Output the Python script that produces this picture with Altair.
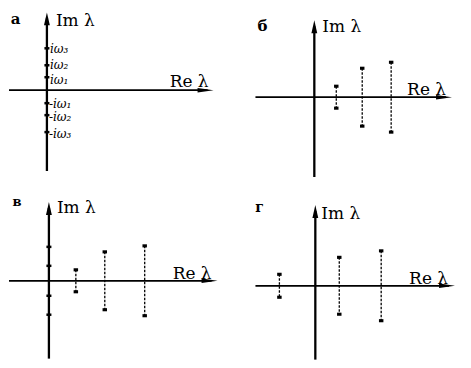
import altair as alt
import pandas as pd

# ---- data (units of the complex plane) ----
# Panel а: purely imaginary eigenvalues ±iω_k
a_omega = [1.3, 2.5, 4.2]
a_pos_labels = ["iω₁", "iω₂", "iω₃"]
a_neg_labels = ["-iω₁", "-iω₂", "-iω₃"]

# Panel б: complex-conjugate pairs Re ± i Im
b_re = [2.2, 4.8, 7.7]
b_im = [1.1, 2.9, 3.5]

# Panel в: two pairs on the imaginary axis + three conjugate pairs
v_axis_im = [1.5, 3.4]
v_re = [2.7, 5.6, 9.6]
v_im = [1.1, 2.9, 3.5]

# Panel г: conjugate pairs, one with negative real part
g_re = [-3.6, 2.4, 6.6]
g_im = [1.15, 2.85, 3.5]

panel_letters = ["а", "б", "в", "г"]
im_label = "Im λ"
re_label = "Re λ"

# ---- layout helpers ----
PX = 10.0
FONT = "DejaVu Serif"
ARROW_R = "M1,0L-1,-0.28L-1,0.28Z"
ARROW_U = "M0,-1L-0.45,1L0.45,1Z"
POS_NUDGE = [2, -1, 0]   # pixel nudges of the +iω labels (layout only)
NEG_NUDGE = [0, 1, 1]


def panel(W, H, ox, oy, xl, xr, yt, yb, letter, letter_pos, letter_size, im_pos, re_pos,
          pair_re=None, pair_im=None, axis_pts=None, pos_labels=None, neg_labels=None):
    xs = alt.Scale(domain=[-ox / PX, (W - ox) / PX], nice=False, zero=False)
    ys = alt.Scale(domain=[-(H - oy) / PX, oy / PX], nice=False, zero=False)

    def X(f):
        return alt.X(f, type="quantitative", scale=xs, axis=None)

    def Y(f):
        return alt.Y(f, type="quantitative", scale=ys, axis=None)

    layers = []
    # horizontal axis (Re)
    layers.append(alt.Chart(pd.DataFrame({"x": [xl], "x2": [xr - 0.6], "y": [0]}))
                  .mark_rule(color="black", strokeWidth=1.7)
                  .encode(x=X("x"), x2="x2", y=Y("y")))
    layers.append(alt.Chart(pd.DataFrame({"x": [xr - 0.8], "y": [0]}))
                  .mark_point(shape=ARROW_R, size=256, filled=True, color="black", opacity=1)
                  .encode(x=X("x"), y=Y("y")))
    # vertical axis (Im)
    layers.append(alt.Chart(pd.DataFrame({"x": [0], "y": [yb], "y2": [yt - 0.6]}))
                  .mark_rule(color="black", strokeWidth=2.3)
                  .encode(x=X("x"), y=Y("y"), y2="y2"))
    layers.append(alt.Chart(pd.DataFrame({"x": [0], "y": [yt - 0.65]}))
                  .mark_point(shape=ARROW_U, size=169, filled=True, color="black", opacity=1)
                  .encode(x=X("x"), y=Y("y")))

    if axis_pts is not None:
        ys_pts = list(axis_pts) + [-v for v in axis_pts]
        layers.append(alt.Chart(pd.DataFrame({"x": [0] * len(ys_pts), "y": ys_pts}))
                      .mark_point(shape="M-1,-0.5L1,-0.5L1,0.5L-1,0.5Z", size=25,
                                  filled=True, color="black", opacity=1)
                      .encode(x=X("x"), y=Y("y")))
    if pos_labels is not None:
        for k, (w, t) in enumerate(zip(axis_pts, pos_labels)):
            layers.append(alt.Chart(pd.DataFrame({"x": [0], "y": [w], "t": [t]}))
                          .mark_text(align="left", baseline="middle", dx=3, dy=1 + POS_NUDGE[k],
                                     font=FONT, fontSize=12, fontStyle="italic", color="black")
                          .encode(x=X("x"), y=Y("y"), text="t:N"))
        for k, (w, t) in enumerate(zip(axis_pts, neg_labels)):
            layers.append(alt.Chart(pd.DataFrame({"x": [0], "y": [-w], "t": [t]}))
                          .mark_text(align="left", baseline="middle", dx=2, dy=1 + NEG_NUDGE[k],
                                     font=FONT, fontSize=12, fontStyle="italic", color="black")
                          .encode(x=X("x"), y=Y("y"), text="t:N"))

    if pair_re is not None:
        df = pd.DataFrame({"re": pair_re, "im": pair_im})
        layers.append(alt.Chart(df)
                      .transform_calculate(neg="-datum.im")
                      .mark_rule(color="black", strokeWidth=1.3, strokeDash=[2.5, 1.5])
                      .encode(x=X("re"), y=Y("im"), y2="neg:Q"))
        ends = pd.DataFrame({"re": list(pair_re) * 2,
                             "y": list(pair_im) + [-v for v in pair_im]})
        layers.append(alt.Chart(ends)
                      .mark_point(shape="M-1,-0.7L1,-0.7L1,0.7L-1,0.7Z", size=20,
                                  filled=True, color="black", opacity=1)
                      .encode(x=X("re"), y=Y("y")))

    # texts
    layers.append(alt.Chart(pd.DataFrame({"t": [letter]}))
                  .mark_text(align="center", baseline="middle", font=FONT, fontSize=letter_size,
                             fontWeight="bold", color="black")
                  .encode(x=alt.value(letter_pos[0]), y=alt.value(letter_pos[1]), text="t:N"))
    layers.append(alt.Chart(pd.DataFrame({"t": [im_label]}))
                  .mark_text(align="left", baseline="alphabetic", font=FONT, fontSize=17,
                             color="black")
                  .encode(x=alt.value(im_pos[0]), y=alt.value(im_pos[1]), text="t:N"))
    layers.append(alt.Chart(pd.DataFrame({"t": [re_label]}))
                  .mark_text(align="left", baseline="alphabetic", font=FONT, fontSize=17,
                             color="black")
                  .encode(x=alt.value(re_pos[0]), y=alt.value(re_pos[1]), text="t:N"))

    return alt.layer(*layers).properties(width=W, height=H)


pa = panel(227, 176, 38, 82, -3.8, 16.7, 7.8, -8.1, panel_letters[0], (6.5, 11), 15, (47, 18), (161, 79),
           axis_pts=a_omega, pos_labels=a_pos_labels, neg_labels=a_neg_labels)
pb = panel(228, 176, 79, 89, -5.9, 13.8, 7.7, -8.0, panel_letters[1], (27, 18), 15, (87, 24), (172, 87),
           pair_re=b_re, pair_im=b_im)
pc = panel(227, 176, 40, 97, -4.0, 16.9, 7.9, -7.8, panel_letters[2], (8, 18), 13, (48, 29), (164, 95),
           pair_re=v_re, pair_im=v_im, axis_pts=v_axis_im)
pd_ = panel(228, 176, 80, 102, -6.0, 14.0, 8.1, -7.4, panel_letters[3], (24, 24), 14, (86, 35), (174, 100),
            pair_re=g_re, pair_im=g_im)

chart = alt.concat(pa, pb, pc, pd_, columns=2, spacing=0, bounds="flush").properties(
    padding=0, background="white").configure_view(stroke=None)

chart.save("out.html", embed_options={"renderer": "svg", "actions": False})
